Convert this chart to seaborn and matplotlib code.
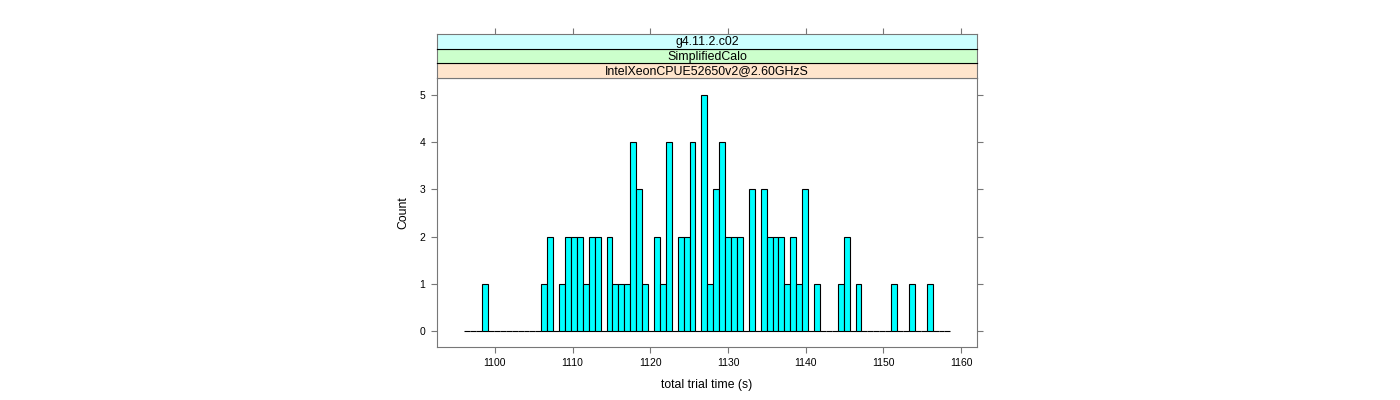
import matplotlib
matplotlib.use('Agg')
import matplotlib.pyplot as plt
import seaborn as sns
import numpy as np
import pandas as pd

# histogram bins
bin_start = 1096.05
bin_width = 0.763
counts = [0, 0, 0, 1, 0, 0, 0, 0, 0, 0,
          0, 0, 0, 1, 2, 0, 1, 2, 2, 2,
          1, 2, 2, 0, 2, 1, 1, 1, 4, 3,
          1, 0, 2, 1, 4, 0, 2, 2, 4, 0,
          5, 1, 3, 4, 2, 2, 2, 0, 3, 0,
          3, 2, 2, 2, 1, 2, 1, 3, 0, 1,
          0, 0, 0, 1, 2, 0, 1, 0, 0, 0,
          0, 0, 1, 0, 0, 1, 0, 0, 1, 0,
          0, 0]

strip_labels = ['IntelXeonCPUE52650v2@2.60GHzS', 'SimplifiedCalo', 'g4.11.2.c02']
strip_colors = ['#ffe5cc', '#ccffcc', '#ccffff']
x_ticks = [1100, 1110, 1120, 1130, 1140, 1150, 1160]
y_ticks = [0, 1, 2, 3, 4, 5]

edges = bin_start + bin_width * np.arange(len(counts) + 1)
df = pd.DataFrame({'time': (edges[:-1] + edges[1:]) / 2, 'n': counts})

plt.rcParams['font.family'] = ['Liberation Sans', 'DejaVu Sans']
frame_col = '#777777'

fig = plt.figure(figsize=(14, 4), dpi=100)
ax = fig.add_axes([0.3121, 0.1325, 0.3857, 0.6725])

sns.histplot(data=df, x='time', weights='n', bins=edges.tolist(), color='#00ffff',
             edgecolor='black', linewidth=0.8, alpha=1, ax=ax)

ax.set_xlim(1092.54, 1162.03)
ax.set_ylim(-0.339, 5.36)
ax.set_xticks(x_ticks)
ax.set_yticks(y_ticks)
ax.set_xticklabels([str(t) for t in x_ticks], fontsize=7.5)
ax.set_yticklabels([str(t) for t in y_ticks], fontsize=7.5)
ax.tick_params(axis='both', direction='out', length=4, width=0.8, color=frame_col)
ax.tick_params(axis='x', pad=3.6)
ax.tick_params(axis='y', pad=4.3, right=True, labelright=False)
ax.set_xlabel('total trial time (s)', fontsize=8.8, labelpad=8)
ax.set_ylabel('Count', fontsize=8.8, labelpad=7)
for s in ax.spines.values():
    s.set_color(frame_col)
    s.set_linewidth(0.8)

# conditioning strips above the panel
strip_h = 0.0365
strip_base = 0.805
for k, (lab, col) in enumerate(zip(strip_labels, strip_colors)):
    sax = fig.add_axes([0.3121, strip_base + k * strip_h, 0.3857, strip_h], sharex=ax)
    sax.set_facecolor(col)
    sax.set_yticks([])
    sax.tick_params(axis='x', bottom=False, labelbottom=False)
    if k == len(strip_labels) - 1:
        sax.tick_params(axis='x', top=True, labeltop=False, direction='out',
                        length=4, width=0.8, color=frame_col)
    for s in sax.spines.values():
        s.set_color(frame_col)
        s.set_linewidth(0.8)
    if k > 0:
        sax.spines['bottom'].set_color('black')
    sax.text(0.5, 0.45, lab, transform=sax.transAxes, ha='center', va='center',
             fontsize=8.9)

fig.savefig('out.png', dpi=100)
